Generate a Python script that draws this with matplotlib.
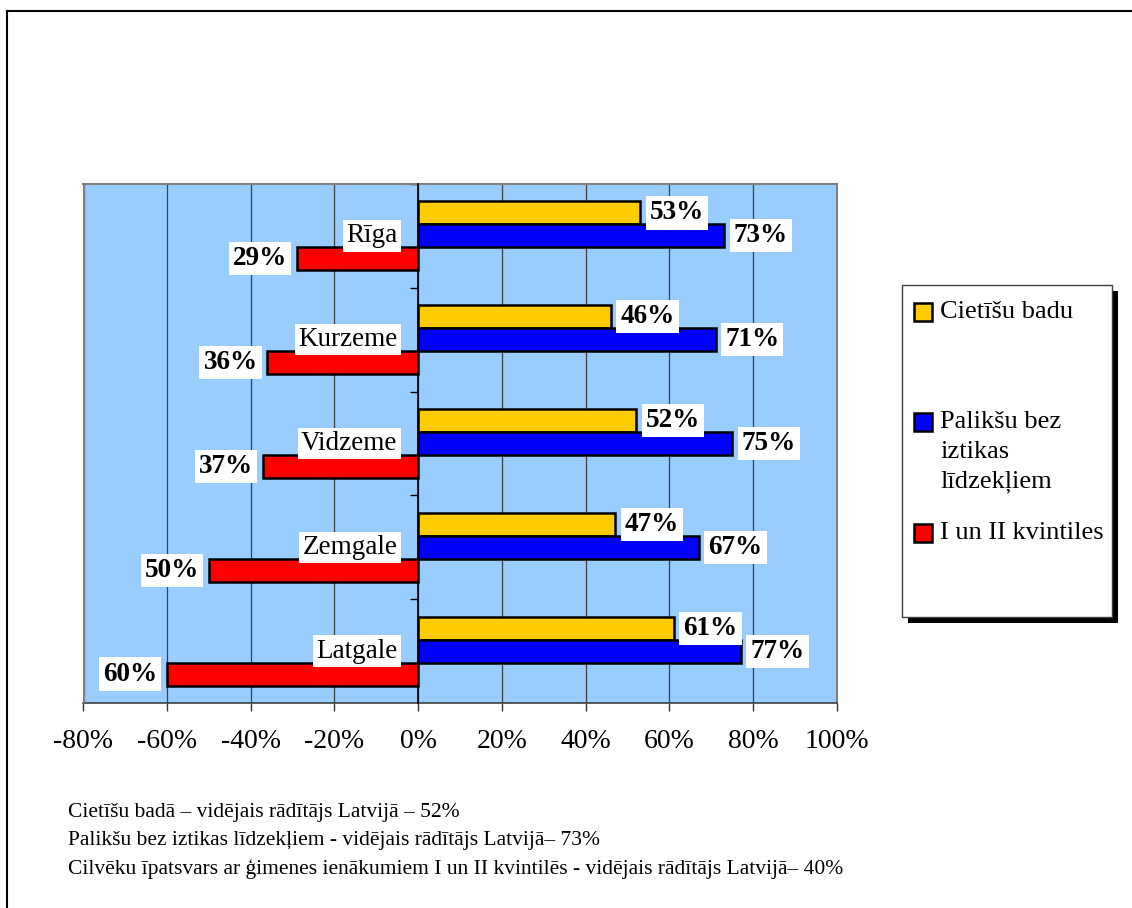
import matplotlib.pyplot as plt
from matplotlib.patches import Rectangle
from matplotlib.lines import Line2D
import numpy as np

plt.rcParams['font.family'] = ['Liberation Serif', 'DejaVu Serif']

# Dati
regions = ['Rīga', 'Kurzeme', 'Vidzeme', 'Zemgale', 'Latgale']
cietisu_badu = [53, 46, 52, 47, 61]
paliksu = [73, 71, 75, 67, 77]
kvintiles = [29, 36, 37, 50, 60]   # rāda kreisajā pusē (negatīvi)

series_names = ['Cietīšu badu', 'Palikšu bez\niztikas\nlīdzekļiem', 'I un II kvintiles']
colors = ['#FFCC00', '#0000FF', '#FF0000']

x_ticks = [-80, -60, -40, -20, 0, 20, 40, 60, 80, 100]

notes = [
    'Cietīšu badā – vidējais rādītājs Latvijā – 52%',
    'Palikšu bez iztikas līdzekļiem - vidējais rādītājs Latvijā– 73%',
    'Cilvēku īpatsvars ar ģimenes ienākumiem I un II kvintilēs - vidējais rādītājs Latvijā– 40%',
]

W, H = 1132, 908
fig = plt.figure(figsize=(W / 100, H / 100), dpi=100)
ax = fig.add_axes([83 / W, 1 - 703 / H, (837 - 83) / W, (703 - 184) / H])
ax.set_facecolor('#99CCFF')

n = len(regions)
y = np.arange(n)[::-1]          # Rīga augšā
h = 0.221

ax.barh(y + h, cietisu_badu, height=h, color=colors[0], edgecolor='black', linewidth=1.8, zorder=3)
ax.barh(y, paliksu, height=h, color=colors[1], edgecolor='black', linewidth=1.8, zorder=3)
ax.barh(y - h, [-v for v in kvintiles], height=h, color=colors[2], edgecolor='black', linewidth=1.8, zorder=3)

lbl = dict(fontsize=19.5, fontweight='bold', va='center',
           bbox=dict(boxstyle='square,pad=0.15', fc='white', ec='none'), zorder=5)
for i in range(n):
    ax.annotate(f'{cietisu_badu[i]}%', (cietisu_badu[i], y[i] + h), xytext=(7, 0),
                textcoords='offset points', ha='left', **lbl)
    ax.annotate(f'{paliksu[i]}%', (paliksu[i], y[i]), xytext=(7, 0),
                textcoords='offset points', ha='left', **lbl)
    ax.annotate(f'{kvintiles[i]}%', (-kvintiles[i], y[i] - h), xytext=(-7, 0),
                textcoords='offset points', ha='right', **lbl)
    ax.annotate(regions[i], (0, y[i]), xytext=(-15, 0), textcoords='offset points',
                ha='right', va='center', fontsize=19.5,
                bbox=dict(boxstyle='square,pad=0.12', fc='white', ec='none'), zorder=5)

ax.set_xlim(-80, 100)
ax.set_ylim(-0.5, n - 0.5)
ax.set_xticks(x_ticks)
ax.set_xticklabels([f'{t}%' for t in x_ticks], fontsize=20)
ax.tick_params(axis='x', direction='out', length=6, width=1, pad=13, color='#333333')
ax.grid(axis='x', color='#404040', linewidth=0.9, zorder=1)

# y ass pie 0 ar iedaļām starp grupām
ax.spines['left'].set_position(('data', 0))
ax.spines['left'].set_color('black')
ax.spines['left'].set_linewidth(1.2)
ax.spines['left'].set_zorder(4)
ax.set_yticks(np.arange(n) + 0.5)
ax.set_yticklabels([])
ax.tick_params(axis='y', direction='out', length=6, width=1, color='black')
for s in ['top', 'right']:
    ax.spines[s].set_color('#808080')
    ax.spines[s].set_linewidth(1.5)
ax.spines['bottom'].set_color('#404040')
ax.spines['bottom'].set_linewidth(1.2)
ax.axvline(-80, color='#808080', linewidth=2.5, zorder=4)


def px(x0, y0):
    return x0 / W, 1 - y0 / H


# leģenda
x0, y0, x1, y1 = 902, 285, 1112, 617
sx, sy = px(x0 + 6, y1 + 6)
fig.add_artist(Rectangle((sx, sy), (x1 - x0) / W, (y1 - y0) / H, transform=fig.transFigure,
                         fc='black', ec='none', zorder=1))
bx, by = px(x0, y1)
fig.add_artist(Rectangle((bx, by), (x1 - x0) / W, (y1 - y0) / H, transform=fig.transFigure,
                         fc='white', ec='#404040', lw=1, zorder=2))
entry_y = [312, 422, 533]
for name, c, ey in zip(series_names, colors, entry_y):
    mx, my = px(914, ey + 9)
    fig.add_artist(Rectangle((mx, my), 18 / W, 18 / H, transform=fig.transFigure,
                             fc=c, ec='black', lw=1.8, zorder=3))
    tx, ty = px(940, ey - 11)
    fig.text(tx, ty, name, fontsize=19, ha='left', va='top', linespacing=1.45, zorder=4)

# piezīmes
for k, t in enumerate(notes):
    nx, ny = px(68, 812 + k * 28.5)
    fig.text(nx, ny, t, fontsize=15.5, ha='left', va='center')

# rāmis
fig.add_artist(Line2D([7 / W, 1], [1 - 10.5 / H] * 2, transform=fig.transFigure, color='black', lw=1.5))
fig.add_artist(Line2D([7 / W] * 2, [0, 1 - 10.5 / H], transform=fig.transFigure, color='black', lw=1.5))

fig.savefig('out.png', dpi=100)
